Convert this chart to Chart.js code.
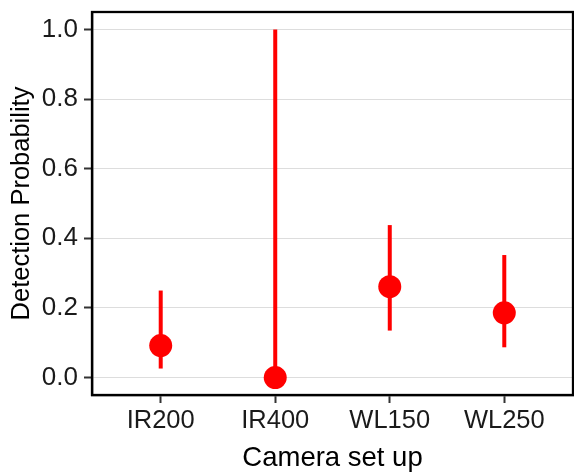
<!DOCTYPE html>
<html>
<head>
<meta charset="utf-8">
<script src="https://cdn.jsdelivr.net/npm/chart.js@4/dist/chart.umd.min.js"></script>
<style>
html,body{margin:0;padding:0;background:#fff;}
#wrap{width:574px;height:472px;position:relative;}
</style>
</head>
<body>
<div id="wrap"><canvas id="c" width="574" height="472"></canvas></div>
<script>
// ---- data ----
const categories = ["IR200", "IR400", "WL150", "WL250"];
const estimate   = [0.092, 0.0, 0.261, 0.186];
const lower      = [0.026, 0.0, 0.135, 0.087];
const upper      = [0.250, 1.0, 0.438, 0.352];
const yTicks     = [0.0, 0.2, 0.4, 0.6, 0.8, 1.0];

const RED = '#FF0000';
const FONT = "'Liberation Sans', Arial, sans-serif";

const pointData = categories.map((c, i) => ({x: i, y: estimate[i]}));
const barSets = categories.map((c, i) => ({
  type: 'line',
  label: c + ' interval',
  data: [{x: i, y: lower[i]}, {x: i, y: upper[i]}],
  showLine: true,
  borderColor: RED,
  borderWidth: 4,
  pointRadius: 0,
  borderCapStyle: 'butt',
  order: 2
}));

const panelBorder = {
  id: 'panelBorder',
  afterDatasetsDraw(chart) {
    const a = chart.chartArea, ctx = chart.ctx;
    ctx.save();
    ctx.strokeStyle = '#000';
    ctx.lineWidth = 2.3;
    ctx.strokeRect(a.left, a.top, a.right - a.left, a.bottom - a.top);
    ctx.restore();
  }
};

new Chart(document.getElementById('c'), {
  type: 'scatter',
  data: {
    datasets: [
      {
        label: 'Detection probability',
        data: pointData,
        backgroundColor: RED,
        borderColor: RED,
        pointRadius: 11.5,
        pointHoverRadius: 11.5,
        borderWidth: 0,
        order: 1
      },
      ...barSets
    ]
  },
  plugins: [panelBorder],
  options: {
    responsive: false,
    animation: false,
    devicePixelRatio: 1,
    layout: {autoPadding: false, padding: {top: 12, right: 1, left: 0, bottom: 0}},
    plugins: {legend: {display: false}, tooltip: {enabled: false}},
    scales: {
      x: {
        type: 'linear',
        min: -0.6,
        max: 3.6,
        afterBuildTicks(scale) { scale.ticks = categories.map((c, i) => ({value: i})); },
        afterFit(scale) { scale.height = 77; scale.paddingLeft = 0; scale.paddingRight = 0; },
        ticks: {
          callback: (v) => categories[v] ?? '',
          font: {family: FONT, size: 25.5},
          color: '#1a1a1a',
          padding: 3,
          maxRotation: 0,
          autoSkip: false
        },
        grid: {drawOnChartArea: false, tickColor: '#333', tickLength: 8, tickWidth: 2},
        border: {display: true, color: '#000', width: 2.3},
        title: {display: true, text: 'Camera set up', font: {family: FONT, size: 27.5, lineHeight: 1.1}, color: '#000', padding: {top: 0, bottom: -2}}
      },
      y: {
        type: 'linear',
        min: -0.05,
        max: 1.05,
        afterBuildTicks(scale) { scale.ticks = yTicks.map(v => ({value: v})); },
        afterFit(scale) { scale.width = 92; scale.paddingTop = 0; scale.paddingBottom = 0; },
        ticks: {
          callback: (v) => Number(v).toFixed(1),
          font: {family: FONT, size: 26},
          color: '#1a1a1a',
          padding: 6
        },
        grid: {color: '#dddddd', lineWidth: 1, tickColor: '#333', tickLength: 8, tickWidth: 2},
        border: {display: true, color: '#000', width: 2.3},
        title: {display: true, text: 'Detection Probability', font: {family: FONT, size: 25.5}, color: '#000', padding: 7}
      }
    }
  }
});
</script>
</body>
</html>
